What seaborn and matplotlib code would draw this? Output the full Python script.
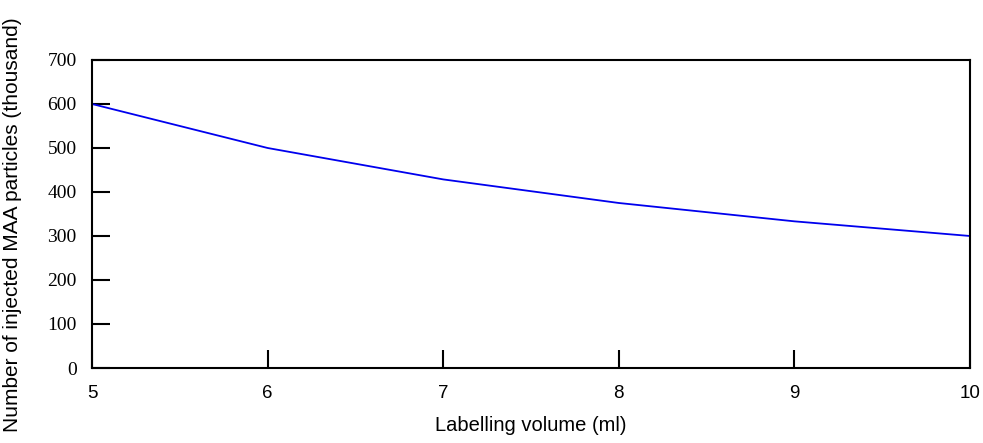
import matplotlib
matplotlib.use('Agg')
import matplotlib.pyplot as plt
import seaborn as sns
import pandas as pd

volume = [5, 6, 7, 8, 9, 10]
particles = [600, 500, 428.6, 375, 333.3, 300]
y_ticks = [0, 100, 200, 300, 400, 500, 600, 700]

df = pd.DataFrame({'volume': volume, 'particles': particles})

sns.set_style('white')
plt.rcParams['font.family'] = ['Liberation Sans', 'DejaVu Sans']
plt.rcParams['text.color'] = 'black'
plt.rcParams['axes.labelcolor'] = 'black'
plt.rcParams['xtick.color'] = 'black'
plt.rcParams['ytick.color'] = 'black'

fig = plt.figure(figsize=(9.83, 4.43), dpi=100)
ax = fig.add_axes([0.0936, 0.1693, 0.8932, 0.6953])
sns.lineplot(data=df, x='volume', y='particles', color='#0000ee', linewidth=1.3, ax=ax)

ax.set_xlim(5, 10)
ax.set_ylim(0, 700)
ax.set_xticks(volume)
ax.set_yticks(y_ticks)
ax.set_yticklabels([str(t) for t in y_ticks], family='Liberation Serif', fontsize=14)
ax.tick_params(axis='x', labelsize=13.5, pad=12)
ax.tick_params(direction='in', length=13, width=1.5, left=True, bottom=True)
ax.tick_params(axis='y', pad=11)
for s in ax.spines.values():
    s.set_color('black')
    s.set_linewidth(1.5)

ax.set_xlabel('Labelling volume (ml)', fontsize=14.5, labelpad=10)
ax.set_ylabel('Number of injected MAA particles (thousand)', fontsize=15)
ax.yaxis.set_label_coords(-0.08, 0.465)

fig.savefig('out.png', dpi=100)
